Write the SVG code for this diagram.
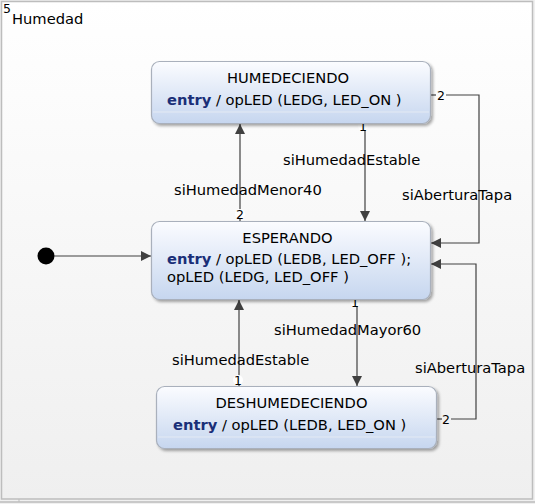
<svg xmlns="http://www.w3.org/2000/svg" width="535" height="504" viewBox="0 0 535 504">
<defs>
<linearGradient id="bg" x1="0" y1="0" x2="0" y2="1">
<stop offset="0" stop-color="#ffffff"/>
<stop offset="1" stop-color="#efefef"/>
</linearGradient>
<linearGradient id="st" x1="0" y1="0" x2="0" y2="1">
<stop offset="0" stop-color="#fbfcff"/>
<stop offset="1" stop-color="#c6d6ef"/>
</linearGradient>
<marker id="ah" viewBox="0 0 10 10" refX="10" refY="5" markerWidth="10" markerHeight="10" markerUnits="userSpaceOnUse" orient="auto">
<path d="M0,0 L10,5 L0,10 z" fill="#404040"/>
</marker>
<filter id="sh" x="-10%" y="-10%" width="120%" height="130%">
<feGaussianBlur in="SourceAlpha" stdDeviation="1.5"/>
<feOffset dx="2" dy="2"/>
<feComponentTransfer><feFuncA type="linear" slope="0.35"/></feComponentTransfer>
<feMerge><feMergeNode/><feMergeNode in="SourceGraphic"/></feMerge>
</filter>
</defs>
<style>
text{font-family:"DejaVu Sans","Liberation Sans",sans-serif;font-size:14.7px;fill:#000}
.box{fill:url(#st);stroke:#a9b0bc;stroke-width:1.2}
.div{stroke:#e4eaf4;stroke-width:1}
.kw{font-weight:bold;fill:#1a2f78}
.ln{fill:none;stroke:#404040;stroke-width:1.2}
.num{font-size:12.5px}
.nb{fill:#ffffff}
</style>
<rect x="0" y="0" width="535" height="504" fill="#f0f0f0"/>
<rect x="1.5" y="1.5" width="531" height="497.5" fill="url(#bg)" stroke="#bdbdbd" stroke-width="1.5"/>
<line x1="0" y1="502" x2="535" y2="502" stroke="#bdbdbd" stroke-width="1.5"/>
<line x1="19" y1="499" x2="19" y2="502" stroke="#bdbdbd" stroke-width="1"/>
<text x="3" y="13" class="num">5</text>
<text x="12" y="24">Humedad</text>

<g id="connectors">
<g id="init">
<circle cx="46" cy="256" r="8.5" fill="#000"/>
<line x1="54" y1="256" x2="151" y2="256" class="ln" marker-end="url(#ah)"/>
</g>
<g id="esp-hum">
<line x1="240" y1="221" x2="240" y2="124" class="ln" marker-end="url(#ah)"/>
<circle cx="240" cy="214" r="5" class="nb"/>
<text x="240" y="219" class="num" text-anchor="middle">2</text>
<text x="174" y="195">siHumedadMenor40</text>
</g>
<g id="hum-esp">
<line x1="365" y1="124" x2="365" y2="221" class="ln" marker-end="url(#ah)"/>
<circle cx="363" cy="126" r="5" class="nb"/>
<text x="363" y="131" class="num" text-anchor="middle">1</text>
<text x="283" y="165">siHumedadEstable</text>
</g>
<g id="hum-esp-tapa">
<polyline points="431,95 436,95" class="ln"/>
<text x="441" y="100" class="num" text-anchor="middle">2</text>
<polyline points="446,95 479,95 479,243 431,243" class="ln" marker-end="url(#ah)"/>
<text x="402" y="200">siAberturaTapa</text>
</g>
<g id="esp-desh">
<line x1="357" y1="300" x2="357" y2="386" class="ln" marker-end="url(#ah)"/>
<circle cx="355" cy="302" r="5" class="nb"/>
<text x="355" y="307" class="num" text-anchor="middle">1</text>
<text x="274" y="335">siHumedadMayor60</text>
</g>
<g id="desh-esp">
<line x1="239" y1="386" x2="239" y2="300" class="ln" marker-end="url(#ah)"/>
<circle cx="238" cy="380" r="5" class="nb"/>
<text x="238" y="385" class="num" text-anchor="middle">1</text>
<text x="172" y="365">siHumedadEstable</text>
</g>
<g id="desh-esp-tapa">
<polyline points="437,419 442,419" class="ln"/>
<text x="446" y="424" class="num" text-anchor="middle">2</text>
<polyline points="451,419 476,419 476,264 431,264" class="ln" marker-end="url(#ah)"/>
<text x="415" y="373">siAberturaTapa</text>
</g>
</g>

<g id="HUMEDECIENDO">
<rect x="151.5" y="61.5" width="279" height="62" rx="8" class="box" filter="url(#sh)"/>
<line x1="153" y1="112" x2="429" y2="112" class="div"/>
<text x="288" y="83" text-anchor="middle">HUMEDECIENDO</text>
<text x="167" y="105"><tspan class="kw">entry</tspan> / opLED (LEDG, LED_ON )</text>
</g>

<g id="ESPERANDO">
<rect x="151.5" y="221.5" width="279" height="78" rx="8" class="box" filter="url(#sh)"/>
<text x="287.5" y="243" text-anchor="middle">ESPERANDO</text>
<text x="167" y="264"><tspan class="kw">entry</tspan> / opLED (LEDB, LED_OFF );</text>
<text x="167" y="282">opLED (LEDG, LED_OFF )</text>
</g>

<g id="DESHUMEDECIENDO">
<rect x="156.5" y="386.5" width="280" height="62" rx="8" class="box" filter="url(#sh)"/>
<line x1="158" y1="437" x2="435" y2="437" class="div"/>
<text x="291.5" y="408" text-anchor="middle">DESHUMEDECIENDO</text>
<text x="173" y="430"><tspan class="kw">entry</tspan> / opLED (LEDB, LED_ON )</text>
</g>
</svg>
